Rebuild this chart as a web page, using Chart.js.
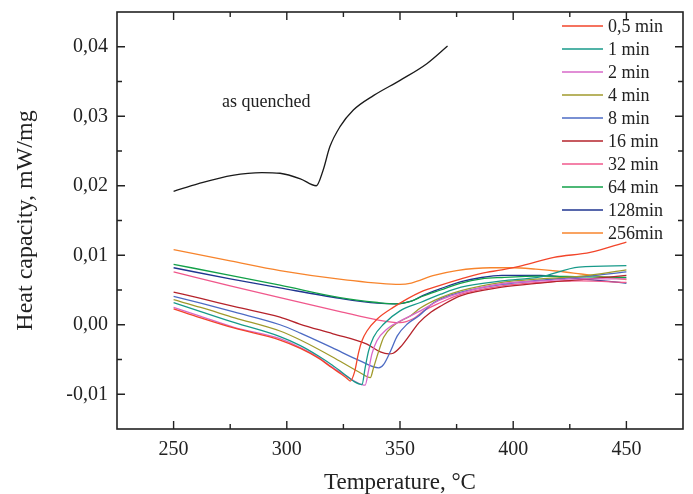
<!DOCTYPE html>
<html>
<head>
<meta charset="utf-8">
<script src="https://cdn.jsdelivr.net/npm/chart.js@4/dist/chart.umd.min.js"></script>
<style>
html, body { margin: 0; padding: 0; background: #fff; }
</style>
</head>
<body>
<canvas id="dsc" width="693" height="494"></canvas>
<script>
// tick labels
var xTicks = [250, 300, 350, 400, 450];
var xMinor = [275, 325, 375, 425];
var yTicks = [-0.01, 0, 0.01, 0.02, 0.03, 0.04];
var yMinor = [-0.005, 0.005, 0.015, 0.025, 0.035];

// as quenched
var tAq = [250, 261, 276, 289, 297, 306, 313, 316, 319, 323.5, 329.4, 338.4, 350.2, 362, 371];
var cpAq = [0.0192, 0.0203, 0.0215, 0.0219, 0.0218, 0.0210, 0.0200, 0.0222, 0.0256, 0.0285, 0.0309, 0.0330, 0.0352, 0.0376, 0.0401];

// 0,5 min
var t05 = [250, 262, 277, 297, 306, 314, 320, 324, 326.5, 328, 330, 331.7, 333.2, 335.4, 339.8, 347, 359, 368, 377, 386, 395, 404, 418, 434, 450];
var cp05 = [0.0023, 0.0010, -0.0005, -0.0022, -0.0034, -0.0048, -0.0062, -0.0071, -0.0077, -0.0081, -0.0067, -0.0040, -0.0023, -0.0009, 0.0008, 0.0025, 0.0047, 0.0057, 0.0066, 0.0074, 0.0079, 0.0085, 0.0097, 0.0104, 0.0119];

// 1 min
var t1 = [250, 262, 277, 297, 306, 314, 320, 325, 329.4, 333.2, 334.6, 336.1, 338.3, 342.8, 350, 359, 368, 377, 395, 412, 429, 450];
var cp1 = [0.0032, 0.0019, 0.0003, -0.0017, -0.0030, -0.0045, -0.0058, -0.0070, -0.0081, -0.0086, -0.0062, -0.0038, -0.0018, 0.0001, 0.0020, 0.0032, 0.0044, 0.0054, 0.0063, 0.0069, 0.0083, 0.0085];

// 2 min
var t2 = [250, 262, 277, 297, 306, 314, 320, 325, 330.9, 334.6, 336.1, 337.6, 339.8, 344.3, 351.7, 359, 368, 377, 395, 412, 430, 450];
var cp2 = [0.0025, 0.0012, -0.0004, -0.0020, -0.0033, -0.0047, -0.0061, -0.0071, -0.0083, -0.0087, -0.0066, -0.0042, -0.0023, -0.0006, 0.0008, 0.0020, 0.0036, 0.0046, 0.0059, 0.0063, 0.0066, 0.0066];

// 4 min
var t4 = [250, 262, 277, 297, 306, 320, 332.4, 336.9, 338.3, 340.6, 342.8, 347.2, 354.7, 359, 368, 377, 395, 412, 430, 450];
var cp4 = [0.0036, 0.0025, 0.0010, -0.0009, -0.0022, -0.0046, -0.0069, -0.0076, -0.0062, -0.0038, -0.0018, -0.0001, 0.0013, 0.0024, 0.0039, 0.0049, 0.0061, 0.0066, 0.0070, 0.0079];

// 8 min
var t8 = [250, 262, 277, 297, 306, 320, 332.4, 340.6, 342.8, 345.8, 348.8, 353.2, 358.4, 365, 377, 395, 412, 430, 450];
var cp8 = [0.0041, 0.0031, 0.0018, 0.0000, -0.0012, -0.0033, -0.0052, -0.0062, -0.0057, -0.0038, -0.0016, 0.0001, 0.0013, 0.0032, 0.0047, 0.0058, 0.0064, 0.0069, 0.0076];

// 16 min
var t16 = [250, 262, 277, 297, 305.7, 320.4, 335.4, 341.3, 345, 347, 350.2, 354.7, 358.4, 363.6, 368, 377, 395, 412, 430, 450];
var cp16 = [0.0047, 0.0038, 0.0026, 0.0011, 0.0001, -0.0013, -0.0028, -0.0039, -0.0042, -0.0041, -0.0032, -0.0013, 0.0003, 0.0018, 0.0027, 0.0042, 0.0054, 0.0060, 0.0065, 0.0071];

// 32 min
var t32 = [250, 275, 297, 323.5, 340, 350, 356, 360.5, 368, 377, 395, 412, 430, 450];
var cp32 = [0.0076, 0.0056, 0.0039, 0.0019, 0.0007, 0.0003, 0.0009, 0.0020, 0.0032, 0.0044, 0.0056, 0.0061, 0.0063, 0.0061];

// 64 min
var t64 = [250, 275, 297, 323.5, 340, 348, 355, 360, 368, 377, 386, 395, 412, 430, 450];
var cp64 = [0.0087, 0.0071, 0.0057, 0.0039, 0.0032, 0.0030, 0.0034, 0.0041, 0.0050, 0.0060, 0.0066, 0.0068, 0.0070, 0.0069, 0.0068];

// 128 min
var t128 = [250, 275, 297, 323.5, 340, 348, 355, 360, 368, 377, 386, 395, 412, 430, 450];
var cp128 = [0.0082, 0.0066, 0.0053, 0.0038, 0.0031, 0.0030, 0.0034, 0.0042, 0.0052, 0.0062, 0.0068, 0.0071, 0.0071, 0.0066, 0.0060];

// 256 min
var t256 = [250, 275, 297, 325, 350, 355, 365, 375, 390, 400, 410, 420, 430, 440, 450];
var cp256 = [0.0108, 0.0092, 0.0078, 0.0065, 0.0058, 0.0060, 0.0071, 0.0078, 0.0082, 0.0082, 0.0080, 0.0077, 0.0073, 0.0069, 0.0065];

var serif = '"Liberation Serif", "DejaVu Serif", serif';
var ink = '#222';

function pts(t, v) {
    return t.map(function (x, i) { return { x: x, y: v[i] }; });
}

function series(label, t, v, color, legend) {
    return {
        label: label,
        data: pts(t, v),
        borderColor: color,
        backgroundColor: color,
        borderWidth: 1.3,
        pointRadius: 0,
        fill: false,
        cubicInterpolationMode: 'monotone',
        inLegend: legend
    };
}

var decor = {
    id: 'decor',
    afterDraw: function (chart) {
        var ctx = chart.ctx;
        var a = chart.chartArea;
        var xs = chart.scales.x, ys = chart.scales.y;
        ctx.save();
        ctx.strokeStyle = ink;
        ctx.lineWidth = 1.6;
        ctx.strokeRect(a.left, a.top, a.right - a.left, a.bottom - a.top);

        ctx.lineWidth = 1.4;
        ctx.beginPath();
        function xt(v, len) {
            var p = xs.getPixelForValue(v);
            ctx.moveTo(p, a.bottom); ctx.lineTo(p, a.bottom - len);
            ctx.moveTo(p, a.top); ctx.lineTo(p, a.top + len);
        }
        function yt(v, len) {
            var p = ys.getPixelForValue(v);
            ctx.moveTo(a.left, p); ctx.lineTo(a.left + len, p);
            ctx.moveTo(a.right, p); ctx.lineTo(a.right - len, p);
        }
        xTicks.forEach(function (v) { xt(v, 8); });
        xMinor.forEach(function (v) { xt(v, 5); });
        yTicks.forEach(function (v) { yt(v, 8); });
        yMinor.forEach(function (v) { yt(v, 5); });
        ctx.stroke();

        // legend inside the plot
        ctx.font = '18px ' + serif;
        ctx.textBaseline = 'middle';
        ctx.textAlign = 'left';
        var row = 0;
        chart.data.datasets.forEach(function (ds) {
            if (!ds.inLegend) return;
            var y = 26 + row * 23;
            ctx.strokeStyle = ds.borderColor;
            ctx.lineWidth = 1.5;
            ctx.beginPath();
            ctx.moveTo(562, y);
            ctx.lineTo(603, y);
            ctx.stroke();
            ctx.fillStyle = ink;
            ctx.fillText(ds.label, 608, y + 1);
            row++;
        });

        // curve annotation
        ctx.textBaseline = 'alphabetic';
        ctx.fillStyle = ink;
        ctx.fillText('as quenched', xs.getPixelForValue(271.4), ys.getPixelForValue(0.0314));
        ctx.restore();
    }
};

new Chart(document.getElementById('dsc').getContext('2d'), {
    type: 'line',
    data: {
        datasets: [
            series('as quenched', tAq, cpAq, '#1a1a1a', false),
            series('0,5 min', t05, cp05, '#f2452a', true),
            series('1 min', t1, cp1, '#179a8a', true),
            series('2 min', t2, cp2, '#d768c9', true),
            series('4 min', t4, cp4, '#a09a2c', true),
            series('8 min', t8, cp8, '#4d6bc4', true),
            series('16 min', t16, cp16, '#b5232b', true),
            series('32 min', t32, cp32, '#f0588c', true),
            series('64 min', t64, cp64, '#12a048', true),
            series('128min', t128, cp128, '#1f3590', true),
            series('256min', t256, cp256, '#f7842c', true)
        ]
    },
    options: {
        responsive: false,
        animation: false,
        devicePixelRatio: 1,
        layout: { padding: { top: 12, right: 10, left: 0, bottom: 0 } },
        plugins: {
            legend: { display: false },
            tooltip: { enabled: false }
        },
        scales: {
            x: {
                type: 'linear',
                min: 225,
                max: 475,
                afterBuildTicks: function (s) { s.ticks = xTicks.map(function (v) { return { value: v }; }); },
                afterFit: function (s) { s.height = 65; s.paddingLeft = 0; s.paddingRight = 0; },
                grid: { display: false, drawTicks: false },
                border: { display: false },
                ticks: { font: { family: serif, size: 20 }, color: ink, padding: 9, maxRotation: 0 },
                title: {
                    display: true,
                    text: 'Temperature, °C',
                    color: ink,
                    font: { family: serif, size: 23, lineHeight: 1 },
                    padding: { top: 0, bottom: 0 }
                }
            },
            y: {
                min: -0.015,
                max: 0.045,
                afterBuildTicks: function (s) { s.ticks = yTicks.map(function (v) { return { value: v }; }); },
                afterFit: function (s) { s.width = 117; s.paddingTop = 0; s.paddingBottom = 0; },
                grid: { display: false, drawTicks: false },
                border: { display: false },
                ticks: {
                    font: { family: serif, size: 20 },
                    color: ink,
                    padding: 9,
                    callback: function (v) { return (Math.round(v * 100) / 100).toFixed(2).replace('.', ','); }
                },
                title: {
                    display: true,
                    text: 'Heat capacity, mW/mg',
                    color: ink,
                    font: { family: serif, size: 24, lineHeight: 1 },
                    padding: { top: 14, bottom: 0 }
                }
            }
        }
    },
    plugins: [decor]
});
</script>
</body>
</html>
